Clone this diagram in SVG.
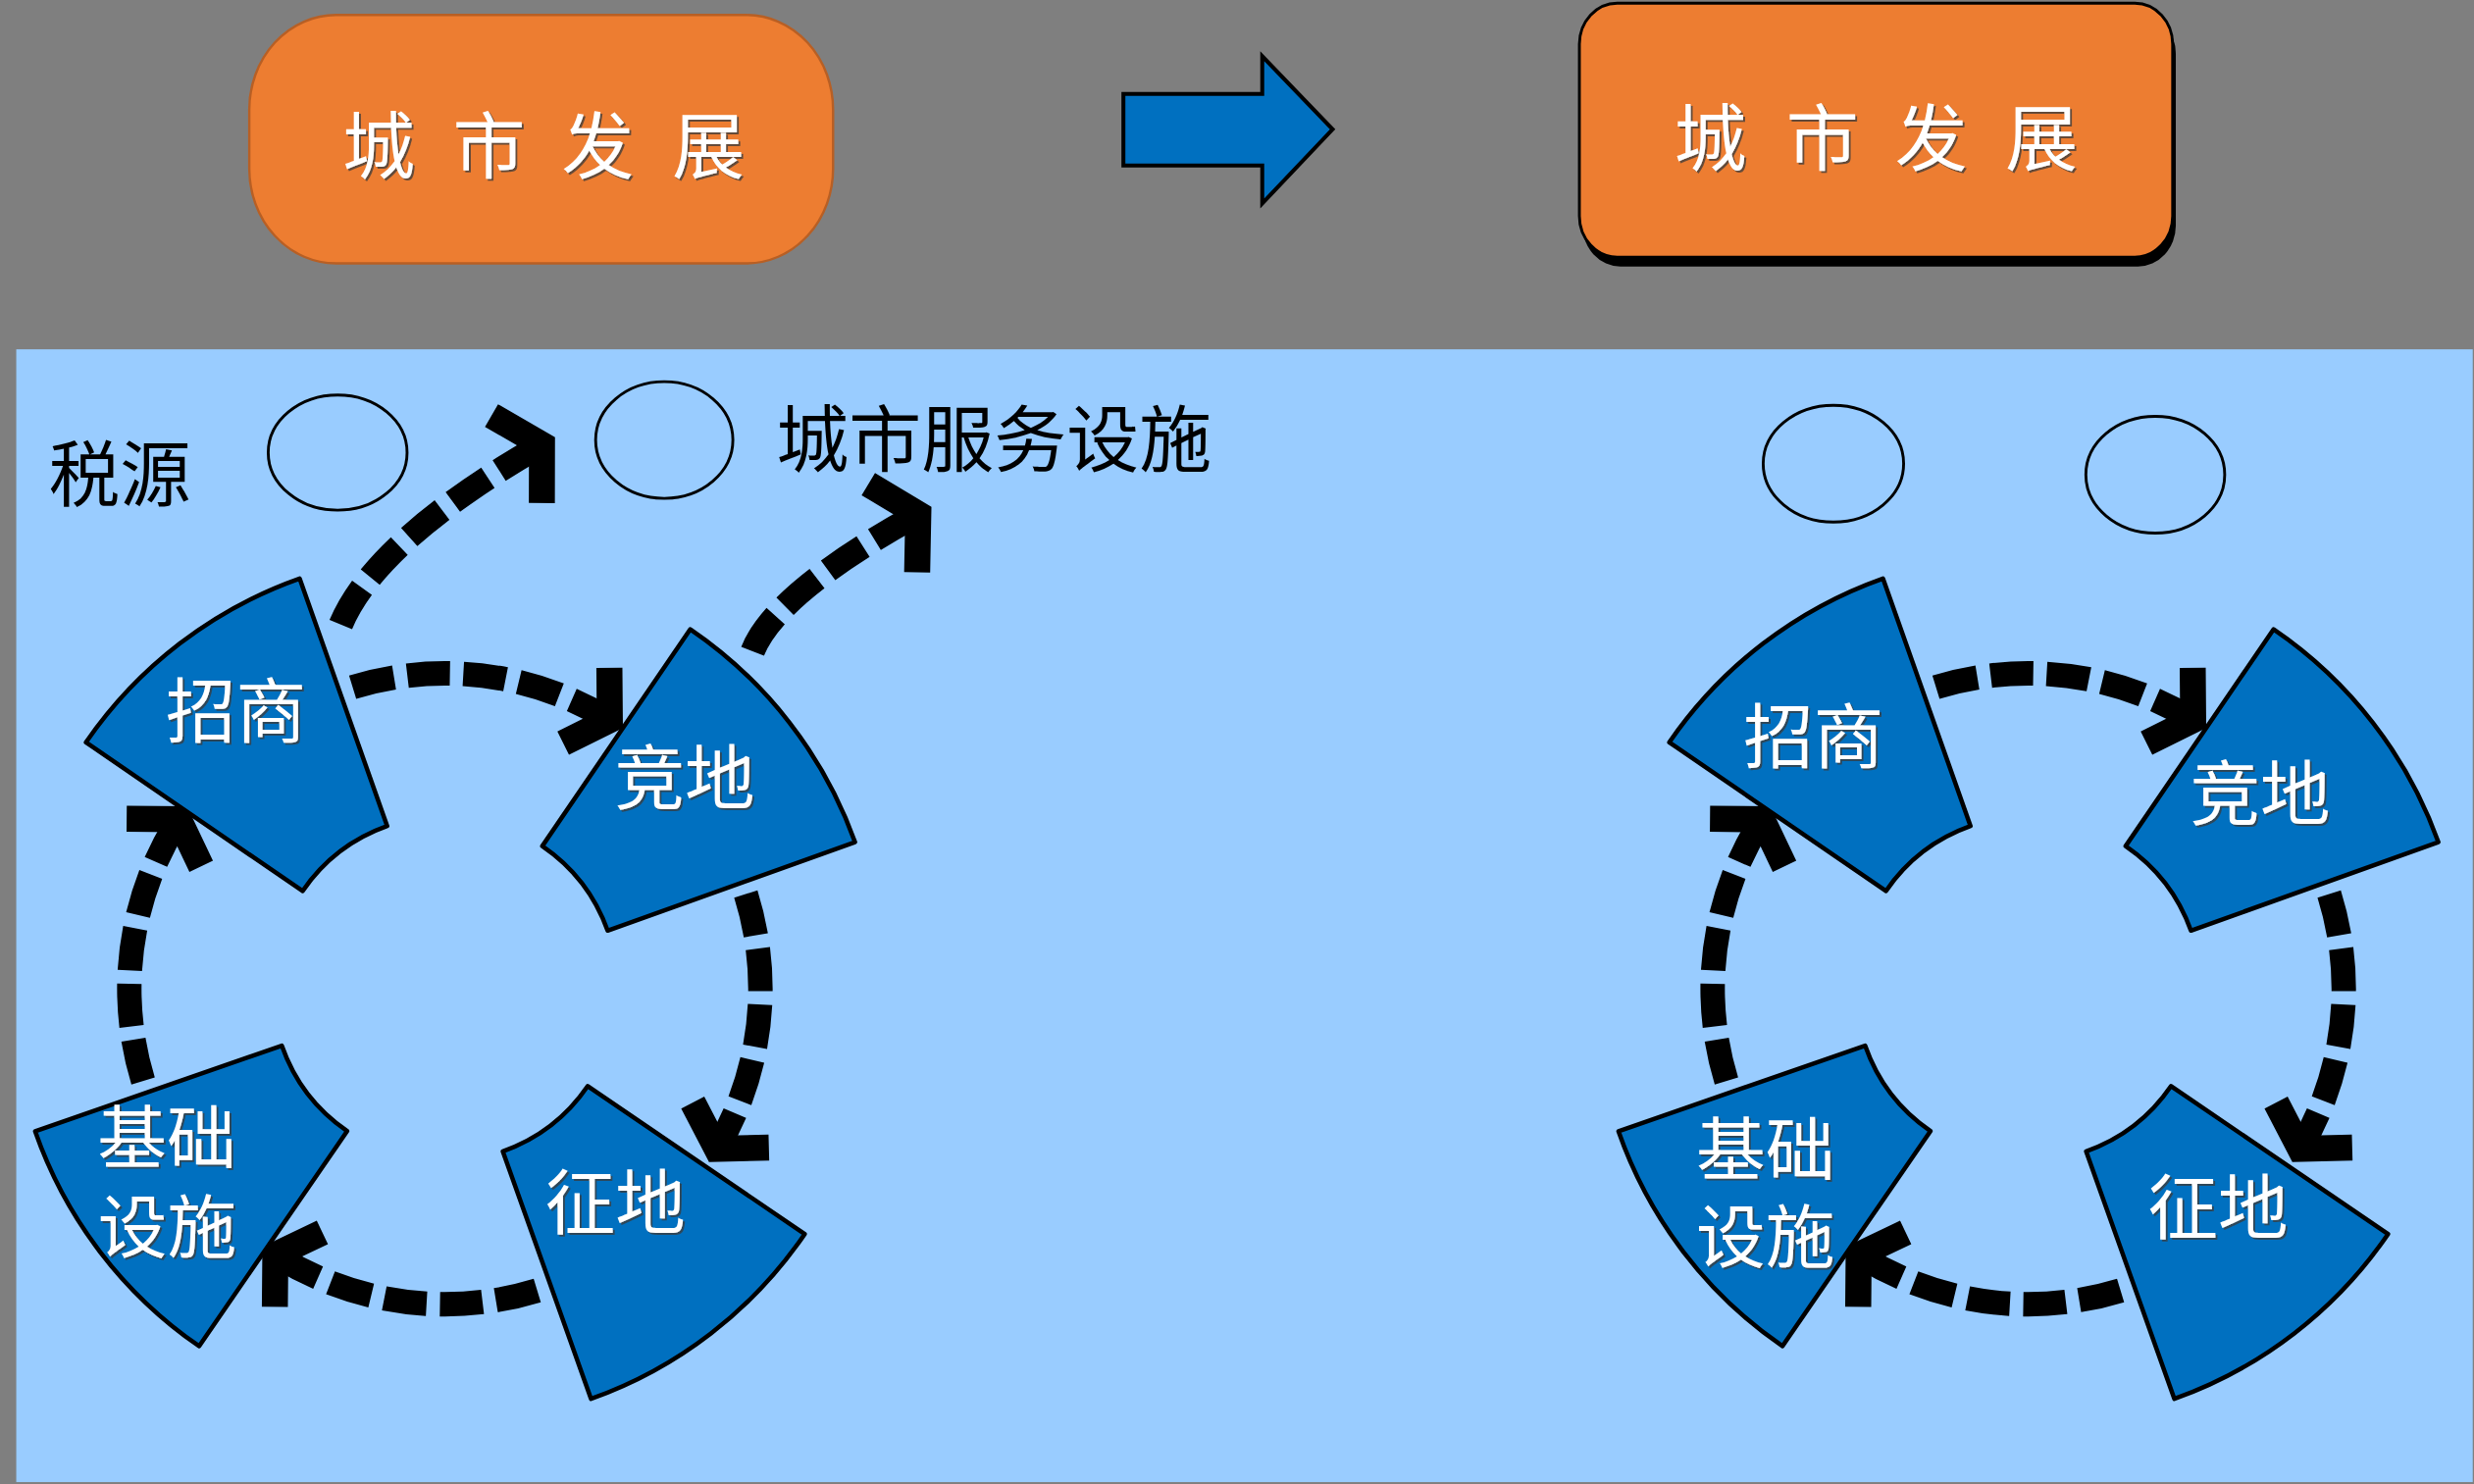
<svg xmlns="http://www.w3.org/2000/svg" width="2522" height="1513" viewBox="0 0 2522 1513">
<style>
.lbl{font-family:"Noto Sans CJK SC","Liberation Sans",sans-serif;fill:#fff;text-anchor:middle;dominant-baseline:central;filter:url(#ts)}
.blk{font-family:"Noto Sans CJK SC","Liberation Sans",sans-serif;fill:#000;text-anchor:middle;dominant-baseline:central}
.sec{fill:#0070C0;stroke:#000;stroke-width:2.8;stroke-linejoin:round}
.ell{fill:none;stroke:#000;stroke-width:1.8}
.dash{fill:none;stroke:#000;stroke-width:15.5;stroke-dasharray:27 8.5;stroke-linecap:butt;marker-end:url(#ah)}
.dash2{fill:none;stroke:#000;stroke-width:15.5;stroke-dasharray:27 8.5;stroke-linecap:butt;marker-end:url(#ah2)}
</style>
<defs>
<filter id="ts" x="-10%" y="-10%" width="130%" height="130%">
<feDropShadow dx="1.2" dy="1.2" stdDeviation="0.4" flood-color="#3a3a3a" flood-opacity="0.8"/>
</filter>
<marker id="ah" markerUnits="userSpaceOnUse" orient="auto" overflow="visible" refX="0" refY="0" markerWidth="1" markerHeight="1">
<path d="M -17.5,-28 L 0,0 L -17.5,28" fill="none" stroke="#000" stroke-width="16.5" stroke-linejoin="miter" stroke-miterlimit="10" stroke-dasharray="none"/>
</marker>
<marker id="ah2" markerUnits="userSpaceOnUse" orient="auto" overflow="visible" refX="0" refY="0" markerWidth="1" markerHeight="1">
<path d="M -18.5,-32 L 0,0 L -18.5,32" fill="none" stroke="#000" stroke-width="16.5" stroke-linejoin="miter" stroke-miterlimit="10" stroke-dasharray="none"/>
</marker>
</defs>
<rect x="0" y="0" width="2522" height="1513" fill="#7F7F7F"/>
<g transform="scale(1.60842 1.60786)">
<rect x="10.3" y="221.5" width="1556.9" height="718.3" fill="#99CCFF"/>

<g id="city-dev-before">
<rect x="158" y="9.5" width="370" height="157.5" rx="55" ry="60" fill="#ED7D31" stroke="#B85F24" stroke-width="1.5"/>
<text class="lbl" y="89" font-size="46"><tspan x="240">城</tspan><tspan x="310">市</tspan><tspan x="379">发</tspan><tspan x="449">展</tspan></text>
</g>

<g id="transition-arrow">
<polygon points="712,59.5 800,59.5 800,35.6 844.6,82 800,129 800,105 712,105" fill="#0070C0" stroke="#000" stroke-width="2.5" stroke-linejoin="miter"/>
</g>

<g id="city-dev-after">
<rect x="1003" y="8" width="376" height="161" rx="24" ry="26" fill="#000"/>
<rect x="1001" y="2" width="376" height="161" rx="24" ry="26" fill="#ED7D31" stroke="#000" stroke-width="1.8"/>
<text class="lbl" y="84" font-size="46"><tspan x="1084">城</tspan><tspan x="1155">市</tspan><tspan x="1224">发</tspan><tspan x="1294">展</tspan></text>
</g>

<g id="tax-label"><text class="blk" x="76" y="297.5" font-size="45">税源</text></g>
<g id="tax-circle-left"><ellipse class="ell" cx="214" cy="287" rx="44" ry="36.5"/></g>
<g id="service-circle-left"><ellipse class="ell" cx="421" cy="279" rx="43.5" ry="37"/></g>
<g id="service-label"><text class="blk" x="630" y="275" font-size="46">城市服务设施</text></g>
<g id="tax-circle-right"><ellipse class="ell" cx="1162" cy="294" rx="44.5" ry="37"/></g>
<g id="service-circle-right"><ellipse class="ell" cx="1366" cy="301" rx="44" ry="37"/></g>

<g id="connectors">
<g id="connectors-left">
<path class="dash" d="M 223.5,435.7 A 200 200 0 0 1 386.5,456.5"/>
<path class="dash" d="M 472.7,566.9 A 200 200 0 0 1 454.3,728.5"/>
<path class="dash" d="M 340.5,818.3 A 200 200 0 0 1 174.5,795.7"/>
<path class="dash" d="M 90.7,685.5 A 200 200 0 0 1 113.3,519.5"/>
<path class="dash2" d="M 216,396 Q 238.5,342.4 343.5,282"/>
<path class="dash2" d="M 477,413 Q 491.5,376 582,326"/>
</g>
<g id="connectors-right" transform="translate(1003.5,0)">
<path class="dash" d="M 223.5,435.7 A 200 200 0 0 1 386.5,456.5"/>
<path class="dash" d="M 472.7,566.9 A 200 200 0 0 1 454.3,728.5"/>
<path class="dash" d="M 340.5,818.3 A 200 200 0 0 1 174.5,795.7"/>
<path class="dash" d="M 90.7,685.5 A 200 200 0 0 1 113.3,519.5"/>
</g>
</g>

<g id="zhaoshang-left">
<path class="sec" d="M 54.5,470.7 A 276 276 0 0 1 189.9,366.8 L 245.4,523.8 A 109.5 109.5 0 0 0 191.8,565 Z"/>
<text class="lbl" x="149.5" y="447.7" font-size="44.5">招商</text>
</g>
<g id="jingdi-left">
<path class="sec" d="M 437.5,399 A 276 276 0 0 1 541.9,534 L 385.1,590.1 A 109.5 109.5 0 0 0 343.7,536.5 Z"/>
<text class="lbl" x="434" y="490" font-size="44.5">竞地</text>
</g>
<g id="zhengdi-left">
<path class="sec" d="M 510,782.5 A 276 276 0 0 1 374.6,887 L 318.7,730.1 A 109.5 109.5 0 0 0 372.5,688.7 Z"/>
<text class="lbl" x="390" y="759.7" font-size="44.5">征地</text>
</g>
<g id="jichusheshi-left">
<path class="sec" d="M 126.2,853.6 A 276 276 0 0 1 22.3,717.4 L 178.6,663 A 109.5 109.5 0 0 0 220,717.2 Z"/>
<text class="lbl" font-size="44"><tspan x="105.7" y="718.5">基础</tspan><tspan x="106" y="775">设施</tspan></text>
</g>

<g id="zhaoshang-right" transform="translate(1003.5,0)">
<path class="sec" d="M 54.5,470.7 A 276 276 0 0 1 189.9,366.8 L 245.4,523.8 A 109.5 109.5 0 0 0 191.8,565 Z"/>
<text class="lbl" x="146" y="464" font-size="44.5">招商</text>
</g>
<g id="jingdi-right" transform="translate(1003.5,0)">
<path class="sec" d="M 437.5,399 A 276 276 0 0 1 541.9,534 L 385.1,590.1 A 109.5 109.5 0 0 0 343.7,536.5 Z"/>
<text class="lbl" x="429" y="500" font-size="44.5">竞地</text>
</g>
<g id="zhengdi-right" transform="translate(1003.5,0)">
<path class="sec" d="M 510,782.5 A 276 276 0 0 1 374.6,887 L 318.7,730.1 A 109.5 109.5 0 0 0 372.5,688.7 Z"/>
<text class="lbl" x="402.2" y="762.7" font-size="44.5">征地</text>
</g>
<g id="jichusheshi-right" transform="translate(1003.5,0)">
<path class="sec" d="M 126.2,853.6 A 276 276 0 0 1 22.3,717.4 L 178.6,663 A 109.5 109.5 0 0 0 220,717.2 Z"/>
<text class="lbl" font-size="44"><tspan x="115.5" y="725.6">基础</tspan><tspan x="115.5" y="781.4">设施</tspan></text>
</g>
</g>
</svg>
